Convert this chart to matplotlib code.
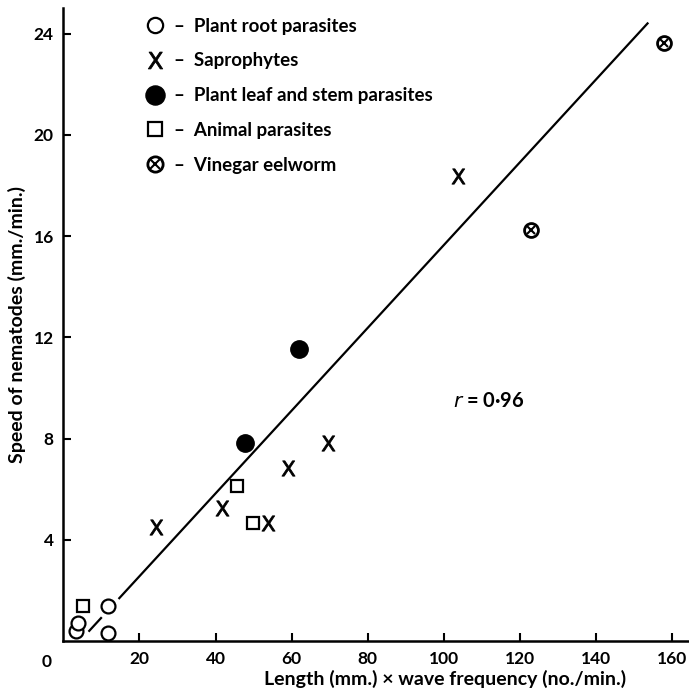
import matplotlib
matplotlib.use("Agg")
import matplotlib.pyplot as plt
import numpy as np
from matplotlib.legend_handler import HandlerTuple

plt.rcParams['font.family'] = ['Lato', 'DejaVu Sans']

# ---- data ----
root_x = [3.3, 3.8, 11.6, 11.6]
root_y = [0.40, 0.72, 1.38, 0.33]
sap_x = [24.3, 41.6, 53.8, 59.1, 69.5, 103.7]
sap_y = [4.52, 5.24, 4.65, 6.83, 7.84, 18.38]
leaf_x = [47.7, 62.0]
leaf_y = [7.84, 11.53]
animal_x = [5.1, 45.7, 49.8]
animal_y = [1.38, 6.13, 4.65]
vinegar_x = [123.0, 157.8]
vinegar_y = [16.24, 23.62]

fit_slope = 0.1635
fit_intercept = -0.71
fit_segments = [(6.8, 9.9), (14.7, 153.6)]

labels = ["Plant root parasites", "Saprophytes", "Plant leaf and stem parasites",
          "Animal parasites", "Vinegar eelworm"]
x_ticks = [20, 40, 60, 80, 100, 120, 140, 160]
y_ticks = [4, 8, 12, 16, 20, 24]
r_text = "0·96"

# ---- figure ----
fig = plt.figure(figsize=(6.89, 6.93), dpi=100)
ax = fig.add_axes([0.092, 0.075, 0.908, 0.913])
ax.set_xlim(0, 164.5)
ax.set_ylim(0, 25.0)

lw = 1.6
for x0, x1 in fit_segments:
    xs = np.array([x0, x1])
    ax.plot(xs, fit_intercept + fit_slope * xs, color='black', lw=lw, zorder=2)

xmark = r'$\mathsf{X}$'
kw = dict(linestyle='none', clip_on=False, zorder=3)
h_root, = ax.plot(root_x, root_y, marker='o', ms=10, mfc='white', mec='black', mew=1.6, **kw)
h_sap, = ax.plot(sap_x, sap_y, marker=xmark, ms=11, mfc='black', mec='black', mew=0.6, **kw)
h_leaf, = ax.plot(leaf_x, leaf_y, marker='o', ms=12.5, mfc='black', mec='black', **kw)
h_anim, = ax.plot(animal_x, animal_y, marker='s', ms=9, mfc='white', mec='black', mew=1.6, **kw)
h_vin1, = ax.plot(vinegar_x, vinegar_y, marker='o', ms=10, mfc='white', mec='black', mew=2.0, **kw)
h_vin2, = ax.plot(vinegar_x, vinegar_y, marker='x', ms=6, mec='black', mew=1.5, **kw)

leg = ax.legend([h_root, h_sap, h_leaf, h_anim, (h_vin1, h_vin2)],
                ["–  " + s for s in labels],
                handler_map={tuple: HandlerTuple(ndivide=1, pad=0)},
                loc='upper left', bbox_to_anchor=(0.105, 1.012), frameon=False,
                handlelength=1.0, handletextpad=0.5, labelspacing=0.95,
                prop={'size': 13.5, 'weight': 'bold'}, numpoints=1, markerscale=1.1)

ax.text(102.5, 9.5, r"$r$ = " + r_text, fontsize=14.5, weight='bold', va='center', ha='left')

# axes styling
for s in ['top', 'right']:
    ax.spines[s].set_visible(False)
for s in ['left', 'bottom']:
    ax.spines[s].set_linewidth(1.8)
ax.set_xticks(x_ticks)
ax.set_yticks(y_ticks)
ax.tick_params(direction='in', length=6, width=1.5, labelsize=12.5, pad=7)
for t in ax.get_xticklabels() + ax.get_yticklabels():
    t.set_fontweight('bold')
ax.annotate("0", xy=(0, 0), xytext=(-12, -9), textcoords='offset points',
            ha='center', va='top', fontsize=12.5, weight='bold')

ax.set_xlabel("Length (mm.) × wave frequency (no./min.)", fontsize=14, weight='bold', labelpad=2)
ax.xaxis.label.set_x(0.61)
ax.set_ylabel("Speed of nematodes (mm./min.)", fontsize=14, weight='bold', labelpad=5)

fig.savefig("out.png", dpi=100)
